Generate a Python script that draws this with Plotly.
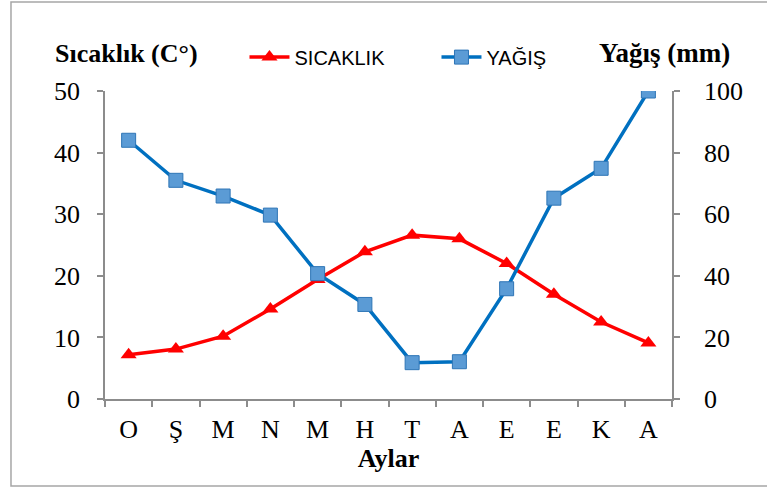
import plotly.graph_objects as go

months = ["O", "Ş", "M", "N", "M", "H", "T", "A", "E", "E", "K", "A"]
sicaklik = [7.2, 8.1, 10.2, 14.6, 19.4, 23.9, 26.6, 26.0, 22.0, 17.0, 12.5, 9.1]
yagis = [84.0, 71.0, 65.9, 59.7, 40.7, 30.7, 11.8, 12.1, 35.8, 65.2, 74.9, 100.0]
left_ticks = [0, 10, 20, 30, 40, 50]
right_ticks = [0, 20, 40, 60, 80, 100]

x = list(range(len(months)))

fig = go.Figure()
fig.add_trace(go.Scatter(
    x=x, y=sicaklik, name="SICAKLIK", mode="lines+markers",
    line=dict(color="#FF0000", width=3.5),
    marker=dict(symbol="triangle-up", size=14, color="#FF0000"),
))
fig.add_trace(go.Scatter(
    x=x, y=yagis, name="YAĞIŞ", mode="lines+markers", yaxis="y2",
    line=dict(color="#0070C0", width=3.5),
    marker=dict(symbol="square", size=14, color="#5B9BD5",
                line=dict(color="#2E75B6", width=1)),
))

serif = "Liberation Serif"
axis_col = "#8C8C8C"
FS = 26

fig.update_layout(
    width=767, height=488,
    margin=dict(l=105, r=95, t=91, b=89),
    paper_bgcolor="white", plot_bgcolor="white",
    showlegend=True,
    legend=dict(orientation="h", x=0.246, y=1.110, xanchor="left", yanchor="middle",
                font=dict(family="Liberation Sans", size=20, color="black"),
                itemwidth=40, entrywidth=137, bgcolor="rgba(0,0,0,0)", tracegroupgap=0),
    xaxis=dict(
        range=[-0.5, 11.5], tickmode="array", tickvals=x, ticktext=months,
        ticks="", showgrid=False, zeroline=False,
        showline=True, linecolor=axis_col, linewidth=1.5,
        tickfont=dict(family=serif, size=FS, color="black"),
        ticklabelstandoff=6,
        minor=dict(tickmode="linear", tick0=-0.5, dtick=1, ticks="outside",
                   ticklen=6, tickcolor=axis_col, tickwidth=1.5, showgrid=False),
        title=dict(text="<b>Aylar</b>", font=dict(family=serif, size=FS, color="black"), standoff=3),
    ),
    yaxis=dict(
        range=[0, 50], tickmode="array", tickvals=left_ticks,
        ticks="outside", ticklen=6, tickcolor=axis_col, tickwidth=1.5,
        showgrid=False, zeroline=False, showline=True, linecolor=axis_col, linewidth=1.5,
        tickfont=dict(family=serif, size=FS, color="black"), ticklabelstandoff=12,
    ),
    yaxis2=dict(
        range=[0, 100], tickmode="array", tickvals=right_ticks, overlaying="y", side="right",
        ticks="outside", ticklen=6, tickcolor=axis_col, tickwidth=1.5,
        showgrid=False, zeroline=False, showline=True, linecolor=axis_col, linewidth=1.5,
        tickfont=dict(family=serif, size=FS, color="black"), ticklabelstandoff=19,
    ),
    annotations=[
        dict(text="<b>Sıcaklık (C°)</b>", xref="paper", yref="paper",
             x=-0.0917, y=1.123, xanchor="left", yanchor="middle", showarrow=False,
             font=dict(family=serif, size=FS, color="black")),
        dict(text="<b>Yağış (mm)</b>",
             xref="paper", yref="paper",
             x=1.1058, y=1.123, xanchor="right", yanchor="middle", showarrow=False,
             font=dict(family=serif, size=27, color="black")),
    ],
    shapes=[
        dict(type="rect", xref="paper", yref="paper",
             x0=-0.1658, x1=1.176, y0=-0.2825, y1=1.289,
             line=dict(color="#A6A6A6", width=1.5), fillcolor="rgba(0,0,0,0)"),
    ],
)

fig.write_html("out.html", config={"displayModeBar": False},
               post_script="document.body.style.margin='0';")
